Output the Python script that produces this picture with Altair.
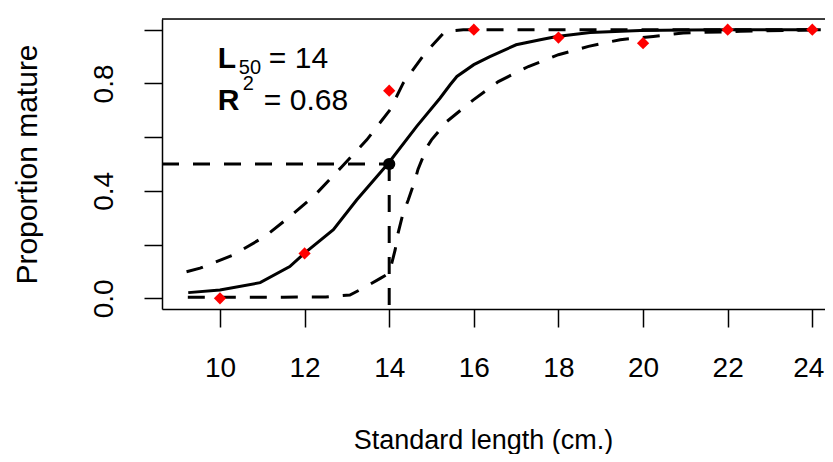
import altair as alt
import pandas as pd

# observed proportions (red points)
length_cm = [10, 12, 14, 16, 18, 20, 22, 24]
prop_mature = [0.0, 0.167, 0.773, 1.0, 0.971, 0.95, 1.0, 1.0]

# fitted maturity ogive (solid)
fit_x = [9.25, 10.0, 10.95, 11.65, 12.0, 12.68, 13.23, 13.98, 14.65, 15.2, 15.44,
         15.6, 16.0, 16.38, 17.0, 17.57, 17.96, 18.75, 19.93, 21.0, 22.0, 24.2]
fit_y = [0.021, 0.031, 0.058, 0.118, 0.168, 0.255, 0.366, 0.503, 0.640, 0.745, 0.795,
         0.826, 0.870, 0.900, 0.944, 0.963, 0.975, 0.990, 0.997, 0.999, 1.0, 1.0]

# upper confidence band (dashed)
upper_x = [9.21, 9.53, 10.31, 11.06, 11.65, 12.25, 12.88, 13.47, 14.02, 14.33,
           14.85, 15.32, 15.75, 17.0, 20.0, 24.2]
upper_y = [0.099, 0.112, 0.161, 0.23, 0.304, 0.385, 0.49, 0.59, 0.702, 0.801,
           0.913, 0.994, 1.0, 1.0, 1.0, 1.0]

# lower confidence band (dashed)
lower_x = [9.24, 10.5, 11.5, 12.5, 13.07, 13.39, 13.8, 14.0, 14.14, 14.21, 14.33,
           14.45, 14.61, 14.68, 14.9, 15.0, 15.36, 15.99, 16.58, 17.29, 18.0, 18.71,
           19.46, 20.24, 20.95, 22.3, 24.2]
lower_y = [0.004, 0.004, 0.004, 0.005, 0.012, 0.038, 0.075, 0.093, 0.18, 0.243, 0.318,
           0.366, 0.44, 0.48, 0.565, 0.59, 0.658, 0.739, 0.807, 0.863, 0.907, 0.938,
           0.963, 0.975, 0.988, 0.994, 1.0]

L50 = 14
R2_text = "0.68"
x_ticks = [10, 12, 14, 16, 18, 20, 22, 24]
y_ticks = [0.0, 0.2, 0.4, 0.6, 0.8, 1.0]

X_DOMAIN = [8.63, 24.30]
Y_DOMAIN = [-0.04, 1.04]
W, H = 663, 290
FONT = "Liberation Sans"

xs = alt.Scale(domain=X_DOMAIN, nice=False, zero=False)
ys = alt.Scale(domain=Y_DOMAIN, nice=False, zero=False)

x_axis = alt.Axis(values=x_ticks, tickSize=18, tickWidth=1.5, tickColor="black",
                  domainColor="black", domainWidth=1.5, labelFontSize=28, labelFont=FONT,
                  labelColor="black", labelPadding=27, labelFlush=False, labelOverlap=False,
                  labelOffset={"condition": {"test": "datum.value == 24", "value": -4},
                               "value": 0},
                  grid=False, title="Standard length (cm.)", titleFont=FONT, titleFontSize=27,
                  titleFontWeight="normal", titleColor="black", titleX=321, titleY=131,
                  titleBaseline="middle", titleAlign="center")
y_axis = alt.Axis(values=y_ticks, tickSize=18, tickWidth=1.5, tickColor="black",
                  domainColor="black", domainWidth=1.5, labelFontSize=28, labelFont=FONT,
                  labelColor="black", labelAngle=270, labelAlign="center",
                  labelBaseline="middle", labelPadding=40, labelFlush=False,
                  labelOverlap=False,
                  labelExpr="(abs(datum.value) < 0.01 || abs(datum.value - 0.4) < 0.01 || abs(datum.value - 0.8) < 0.01) ? format(datum.value, '.1f') : ''",
                  grid=False, title="Proportion mature", titleFont=FONT, titleFontSize=30,
                  titleFontWeight="normal", titleColor="black", titleAngle=270,
                  titleX=-135, titleY=145, titleBaseline="middle", titleAlign="center")


def X(field):
    return alt.X(field, scale=xs, axis=x_axis, title="Standard length (cm.)")


def Y(field):
    return alt.Y(field, scale=ys, axis=y_axis, title="Proportion mature")


fit_df = pd.DataFrame({"x": fit_x, "y": fit_y})
up_df = pd.DataFrame({"x": upper_x, "y": upper_y})
lo_df = pd.DataFrame({"x": lower_x, "y": lower_y})
pts_df = pd.DataFrame({"x": length_cm, "y": prop_mature})

dash = [17, 14]
fit = alt.Chart(fit_df).mark_line(color="black", strokeWidth=3).encode(x=X("x:Q"), y=Y("y:Q"))
upper = alt.Chart(up_df).mark_line(color="black", strokeWidth=3, strokeDash=dash).encode(
    x=X("x:Q"), y=Y("y:Q"))
lower = alt.Chart(lo_df).mark_line(color="black", strokeWidth=3, strokeDash=dash).encode(
    x=X("x:Q"), y=Y("y:Q"))

href_df = pd.DataFrame({"x": [X_DOMAIN[0]], "x1": [L50], "y": [0.5]})
vref_df = pd.DataFrame({"x": [L50], "y": [0.5], "y1": [Y_DOMAIN[0]]})
href = alt.Chart(href_df).mark_rule(color="black", strokeWidth=3, strokeDash=dash).encode(
    x=X("x:Q"), x2="x1:Q", y=Y("y:Q"))
vref = alt.Chart(vref_df).mark_rule(color="black", strokeWidth=3, strokeDash=dash).encode(
    x=X("x:Q"), y=Y("y:Q"), y2="y1:Q")

l50_df = pd.DataFrame({"x": [L50], "y": [0.5]})
l50pt = alt.Chart(l50_df).mark_point(filled=True, shape="circle", size=150, color="black",
                                     opacity=1).encode(x=X("x:Q"), y=Y("y:Q"))

pts = alt.Chart(pts_df).mark_point(filled=True, shape="diamond", size=150, color="#ff0000",
                                   opacity=1).encode(x=X("x:Q"), y=Y("y:Q"))

ann_x = 9.95
line1_y = 0.858
line2_y = 0.70
a1 = pd.DataFrame({"x": [ann_x], "y": [line1_y]})
a2 = pd.DataFrame({"x": [ann_x], "y": [line2_y]})


def txt(df, s, dx, dy=0, size=30, weight="normal"):
    return alt.Chart(df).mark_text(text=s, align="left", baseline="alphabetic", dx=dx, dy=dy,
                                   fontSize=size, fontWeight=weight, font=FONT,
                                   color="black").encode(x=X("x:Q"), y=Y("y:Q"))


texts = [
    txt(a1, "L", 0, weight="bold"),
    txt(a1, "50", 21, 6, size=20),
    txt(a1, "=", 51),
    txt(a1, str(L50), 77),
    txt(a2, "R", 0, weight="bold"),
    txt(a2, "2", 25, -20, size=20),
    txt(a2, "=", 46),
    txt(a2, R2_text, 72),
]

top_border = alt.Chart(l50_df).mark_rule(color="black", strokeWidth=1.5).encode(
    x=alt.value(0), x2=alt.value(W), y=alt.value(0))

chart = alt.layer(fit, upper, lower, href, vref, l50pt, pts, *texts, top_border).properties(
    width=W, height=H,
    autosize=alt.AutoSizeParams(type="none"),
    padding={"left": 154, "top": 11, "right": 0, "bottom": 145},
).configure_view(stroke=None).configure(background="white")

chart.save("out.html", embed_options={"renderer": "svg", "actions": False})
